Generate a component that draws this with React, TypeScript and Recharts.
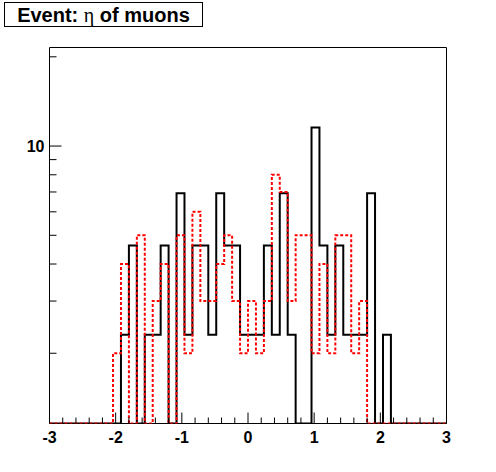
import { LineChart, Line, XAxis, YAxis, ReferenceArea } from "recharts";

// 50 bins of eta between -3 and 3
const etaMin = -3;
const binWidth = 0.12;

// red dotted histogram (bin contents, left to right)
const redCounts = [
    0, 0, 0, 0, 0, 0, 0, 0, 2, 4,
    0, 5, 0, 3, 4, 0, 5, 2, 6, 3,
    3, 4, 5, 3, 2, 3, 2, 3, 8, 7,
    3, 5, 5, 2, 4, 2, 5, 5, 2, 3,
    0, 0, 0, 0, 0, 0, 0, 0, 0, 0,
];

// black solid histogram (scaled contents)
const blackCounts = [
    0, 0, 0, 0, 0, 0, 0, 0, 0, 2.31,
    4.62, 0, 2.31, 2.31, 4.62, 0, 6.93, 2.31, 4.62, 4.62,
    2.31, 6.93, 4.62, 4.62, 2.31, 2.31, 2.31, 4.62, 2.31, 6.93,
    2.31, 0, 0, 11.55, 4.62, 2.31, 4.62, 2.31, 2.31, 2.31,
    6.93, 0, 2.31, 0, 0, 0, 0, 0, 0, 0,
];

const xTickLabels = [-3, -2, -1, 0, 1, 2, 3];
const yTicks = [2, 3, 4, 5, 6, 7, 8, 9, 10, 20];
const yLabelled = [10];

const Y_MIN = 1.159;
const Y_MAX = 21.5;

// minor ticks every 0.2 between the labelled ones
const xTicks: number[] = [];
for (let i = 0; i < xTickLabels.length - 1; i++) {
    for (let k = 0; k < 5; k++) {
        xTicks.push(Math.round((xTickLabels[i] + k * 0.2) * 10) / 10);
    }
}
xTicks.push(xTickLabels[xTickLabels.length - 1]);

// step outline: one point per bin edge, empty bins sit on the floor of the log axis
const data = Array.from({ length: redCounts.length + 1 }, (_, i) => {
    const j = Math.min(i, redCounts.length - 1);
    return {
        x: Math.round((etaMin + i * binWidth) * 1000) / 1000,
        red: redCounts[j] > 0 ? redCounts[j] : Y_MIN,
        black: blackCounts[j] > 0 ? blackCounts[j] : Y_MIN,
    };
});

const labelFont = "'Liberation Sans', Arial, sans-serif";

const XTick = (props: any) => {
    const { x, y, payload } = props;
    const v = payload.value;
    const major = xTickLabels.some((t) => Math.abs(t - v) < 1e-6);
    return (
        <g>
            <line x1={x} y1={y} x2={x} y2={y - (major ? 11 : 6)} stroke="#000" strokeWidth={1} />
            {major && (
                <text x={x} y={y + 19} textAnchor="middle" fontFamily={labelFont} fontWeight="bold" fontSize={16} fill="#000">
                    {v}
                </text>
            )}
        </g>
    );
};

const YTick = (props: any) => {
    const { x, y, payload } = props;
    const v = payload.value;
    const major = yLabelled.includes(v);
    return (
        <g>
            <line x1={x} y1={y} x2={x + (major ? 12 : 7)} y2={y} stroke="#000" strokeWidth={1} />
            {major && (
                <text x={x - 5} y={y + 6} textAnchor="end" fontFamily={labelFont} fontWeight="bold" fontSize={16} fill="#000">
                    {v}
                </text>
            )}
        </g>
    );
};

export default function App() {
    return (
        <div style={{ position: "relative", width: 496, height: 472, background: "#fff" }}>
            <style>{`body { margin: 0; }`}</style>
            <LineChart width={496} height={472} data={data} margin={{ top: 47.5, right: 49.5, bottom: 0, left: 0.5 }}>
                <XAxis
                    dataKey="x"
                    type="number"
                    domain={[-3, 3]}
                    ticks={xTicks}
                    interval={0}
                    height={48.5}
                    axisLine={false}
                    tickLine={false}
                    tickSize={0}
                    tickMargin={0}
                    tick={<XTick />}
                />
                <YAxis
                    type="number"
                    scale="log"
                    domain={[Y_MIN, Y_MAX]}
                    allowDataOverflow
                    ticks={yTicks}
                    interval={0}
                    width={49}
                    axisLine={false}
                    tickLine={false}
                    tickSize={0}
                    tickMargin={0}
                    tick={<YTick />}
                />
                <ReferenceArea x1={-3} x2={3} y1={Y_MIN} y2={Y_MAX} fill="none" stroke="#000" strokeWidth={1} />
                <Line
                    type="stepAfter"
                    dataKey="black"
                    stroke="#000"
                    strokeWidth={2}
                    dot={false}
                    isAnimationActive={false}
                />
                <Line
                    type="stepAfter"
                    dataKey="red"
                    stroke="#ff0000"
                    strokeWidth={2}
                    strokeDasharray="3 2"
                    dot={false}
                    isAnimationActive={false}
                />
            </LineChart>
            <div
                style={{
                    position: "absolute",
                    left: 4,
                    top: 2,
                    width: 197,
                    height: 23,
                    border: "1px solid #000",
                    fontFamily: labelFont,
                    fontWeight: "bold",
                    fontSize: 20,
                    lineHeight: "24px",
                    textAlign: "center",
                    whiteSpace: "nowrap",
                }}
            >
                Event: <span style={{ fontFamily: "'Liberation Serif', serif", fontWeight: "normal" }}>η</span> of muons
            </div>
        </div>
    );
}
